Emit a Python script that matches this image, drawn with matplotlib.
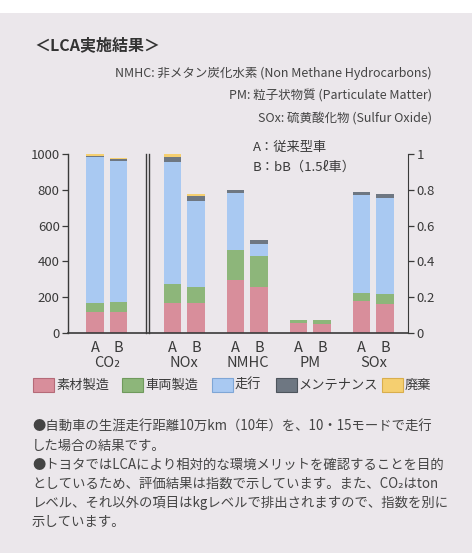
import matplotlib
matplotlib.use("Agg")
import matplotlib.pyplot as plt
from matplotlib.patches import Rectangle
import numpy as np

plt.rcParams['font.family'] = ['Noto Sans CJK JP', 'DejaVu Sans']

# ---- data ----
groups = ["CO₂", "NOx", "NMHC", "PM", "SOx"]
variants = ["A", "B"]
stages = ["素材製造", "車両製造", "走行", "メンテナンス", "廃棄"]
colors = ["#d88e9b", "#8db67a", "#a9c9f2", "#6e7782", "#f5cf70"]
edge_colors = ["#b56a78", "#6f9a5c", "#7fa6d6", "#4d545c", "#d9ae4c"]

# values per stage, order: CO2, NOx, NMHC, PM, SOx
materials_A = [115, 167, 294, 55, 180]
materials_B = [115, 167, 257, 53, 162]
vehicle_A = [52, 108, 167, 19, 42]
vehicle_B = [56, 88, 174, 21, 56]
driving_A = [814, 682, 323, 0, 549]
driving_B = [792, 481, 66, 0, 534]
maint_A = [9, 28, 15, 0, 15]
maint_B = [9, 30, 22, 0, 24]
disposal_A = [10, 13, 0, 0, 0]
disposal_B = [8, 12, 0, 0, 0]

left_ticks = [0, 200, 400, 600, 800, 1000]
right_ticklabels = ["0", "0.2", "0.4", "0.6", "0.8", "1"]

notes = ["NMHC: 非メタン炭化水素 (Non Methane Hydrocarbons)",
         "PM: 粒子状物質 (Particulate Matter)",
         "SOx: 硫黄酸化物 (Sulfur Oxide)"]
body = ["●自動車の生涯走行距離10万km（10年）を、10・15モードで走行",
        "した場合の結果です。",
        "●トヨタではLCAにより相対的な環境メリットを確認することを目的",
        "としているため、評価結果は指数で示しています。また、CO₂はton",
        "レベル、それ以外の項目はkgレベルで排出されますので、指数を別に",
        "示しています。"]

W, H = 477, 553
fig = plt.figure(figsize=(W / 100, H / 100), dpi=100, facecolor="white")
bg = "#ebe7eb"
fig.patches.append(Rectangle((0, 0), 472 / W, (H - 13) / H, transform=fig.transFigure,
                             facecolor=bg, edgecolor="none", zorder=-10))

def fx(px):
    return px / W

def fy(py):
    return 1 - py / H

ax = fig.add_axes([fx(68), fy(333), fx(408) - fx(68), fy(154) - fy(333)])
ax.set_facecolor("none")

group_start = np.array([0, 3.3, 5.98, 8.66, 11.34])
posA = group_start
posB = group_start + 1.0
width = 0.74

stackA = [materials_A, vehicle_A, driving_A, maint_A, disposal_A]
stackB = [materials_B, vehicle_B, driving_B, maint_B, disposal_B]
for pos, stack in ((posA, stackA), (posB, stackB)):
    bottom = np.zeros(len(groups))
    for vals, c in zip(stack, colors):
        v = np.array(vals, dtype=float)
        ax.bar(pos, v, width, bottom=bottom, color=c, edgecolor="none", zorder=2)
        bottom += v

ax.set_xlim(-1.15, 13.32)
ax.set_ylim(0, 1000)

ink = "#3a3a3a"
for s in ["top", "right"]:
    ax.spines[s].set_visible(False)
ax.spines["left"].set_color(ink)
ax.spines["bottom"].set_color(ink)
ax.spines["left"].set_linewidth(1.0)
ax.spines["bottom"].set_linewidth(1.2)

ax.set_yticks(left_ticks)
ax.set_yticklabels([str(t) for t in left_ticks])
ax.tick_params(axis="y", direction="out", length=4, width=0.9, colors=ink, labelsize=9.5, pad=2)
ax.set_xticks([])

ax2 = ax.twinx()
ax2.set_ylim(0, 1000)
for s in ["top", "left", "bottom"]:
    ax2.spines[s].set_visible(False)
ax2.spines["right"].set_color(ink)
ax2.set_yticks(left_ticks)
ax2.set_yticklabels(right_ticklabels)
ax2.tick_params(axis="y", direction="out", length=4, width=0.9, colors=ink, labelsize=9.5, pad=2)

# double separator line
for xs in (2.15, 2.28):
    ax.plot([xs, xs], [0, 1000], color=ink, lw=1.0, zorder=3, clip_on=False)

# x labels
for i, g in enumerate(groups):
    ax.text(posA[i], -45, "A", ha="center", va="top", fontsize=10.5, color=ink)
    ax.text(posB[i], -45, "B", ha="center", va="top", fontsize=10.5, color=ink)
    ax.text((posA[i] + posB[i]) / 2, -130, g, ha="center", va="top", fontsize=10.5, color=ink)

# title and notes
fig.text(fx(34), fy(45), "＜LCA実施結果＞", ha="left", va="center", fontsize=11.5,
         fontweight="bold", color="#333333")
for i, n in enumerate(notes):
    fig.text(fx(432), fy(73 + i * 23), n, ha="right", va="center", fontsize=9.0, color="#444444")

fig.text(fx(253), fy(147), "A：従来型車", ha="left", va="center", fontsize=9.5, color=ink)
fig.text(fx(253), fy(167), "B：bB（1.5ℓ車）", ha="left", va="center", fontsize=9.5, color=ink)

# legend
leg_x = [33, 122, 212, 276, 382]
for x0, lab, c, ec in zip(leg_x, stages, colors, edge_colors):
    fig.patches.append(Rectangle((fx(x0), fy(392)), 21 / W, 14 / H, transform=fig.transFigure,
                                 facecolor=c, edgecolor=ec, lw=0.8))
    fig.text(fx(x0 + 23), fy(385), lab, ha="left", va="center", fontsize=9.5, color=ink)

# body text
for i, line in enumerate(body):
    fig.text(fx(32), fy(427 + i * 19), line, ha="left", va="center", fontsize=9.6, color="#444444")

fig.savefig("out.png", dpi=100, facecolor=fig.get_facecolor())
